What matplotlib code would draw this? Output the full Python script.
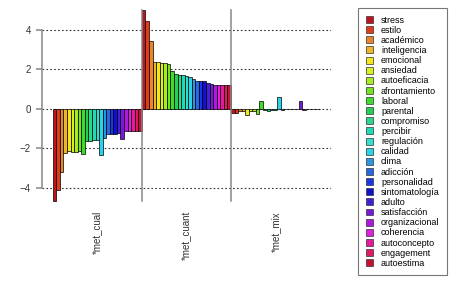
import numpy as np
import matplotlib
matplotlib.use("Agg")
import matplotlib.pyplot as plt
from matplotlib.patches import Patch

plt.rcParams['font.family'] = ['Liberation Sans', 'DejaVu Sans']

terms = ['stress', 'estilo', 'académico', 'inteligencia', 'emocional', 'ansiedad',
         'autoeficacia', 'afrontamiento', 'laboral', 'parental', 'compromiso',
         'percibir', 'regulación', 'calidad', 'clima', 'adicción', 'personalidad',
         'sintomatología', 'adulto', 'satisfacción', 'organizacional', 'coherencia',
         'autoconcepto', 'engagement', 'autoestima']
groups = ['*met_cual', '*met_cuant', '*met_mix']

met_cual = [-4.66, -4.12, -3.22, -2.24, -2.12, -2.18, -2.18, -2.12, -2.30, -1.64,
            -1.64, -1.58, -1.58, -2.36, -1.46, -1.30, -1.30, -1.30, -1.22, -1.54,
            -1.12, -1.12, -1.12, -1.12, -1.12]
met_cuant = [5.00, 4.46, 3.44, 2.39, 2.39, 2.34, 2.32, 2.29, 1.92, 1.75,
             1.73, 1.72, 1.68, 1.61, 1.53, 1.41, 1.41, 1.41, 1.31, 1.24,
             1.20, 1.20, 1.20, 1.20, 1.20]
met_mix = [-0.20, -0.20, -0.12, -0.12, -0.32, -0.12, -0.10, -0.25, 0.40, -0.08,
           -0.10, -0.05, -0.05, 0.60, -0.05, -0.03, -0.03, -0.03, -0.03, 0.40,
           -0.05, -0.03, -0.03, -0.03, -0.03]

colors = ['#c0141c', '#e03c1c', '#e8862c', '#f0b428', '#f4e61c', '#d8f020',
          '#a8ec20', '#74e41c', '#3cdc28', '#24d050', '#28d88c', '#20dcb4',
          '#30e0cc', '#28d4e8', '#2898e0', '#2868e0', '#1838e8', '#1010d0',
          '#4020d8', '#7818d8', '#b018e0', '#e020e0', '#e8189c', '#e01864',
          '#c81030']

fig = plt.figure(figsize=(4.74, 2.82), dpi=100)
ax = fig.add_axes([0.0888, 0.262, 0.609, 0.728])

n = len(terms)
all_vals = [met_cual, met_cuant, met_mix]
for g, vals in enumerate(all_vals):
    x = np.arange(n) + g * n
    ax.bar(x, vals, width=1.0, align='edge', color=colors,
           edgecolor='black', linewidth=0.5, zorder=3)

lo = min(min(v) for v in all_vals)
hi = max(max(v) for v in all_vals)
for g in range(1, len(groups)):
    ax.plot([g * n, g * n], [lo, hi], color='#888888', lw=1.1, zorder=4)

for yv in [-4, -2, 0, 2, 4]:
    ax.axhline(yv, color='#333333', lw=0.8, ls=(0, (1.5, 2.0)), zorder=1)

total = n * len(groups)
ext = 0.04
ax.set_xlim(-ext * total, total * (1 + ext))
span = hi - lo
ax.set_ylim(lo - ext * span, hi + ext * span)

for s in ['top', 'right', 'bottom']:
    ax.spines[s].set_visible(False)
ax.spines['left'].set_bounds(-4, 4)
ax.spines['left'].set_color('#888888')
ax.spines['left'].set_linewidth(1.1)
ax.set_yticks([-4, -2, 0, 2, 4])
ax.tick_params(axis='y', length=4, color='#888888', width=1.1,
               labelsize=7, labelcolor='#333333', pad=4)
ax.set_xticks([n / 2 + g * n for g in range(len(groups))])
ax.set_xticklabels(groups, rotation=90, fontsize=7, color='#333333')
ax.tick_params(axis='x', length=0, pad=2)

handles = [Patch(facecolor=c, edgecolor='#333333', linewidth=0.5) for c in colors]
leg = fig.legend(handles, terms, loc='upper left',
                 bbox_to_anchor=(358 / 474, 1 - 8 / 282),
                 fontsize=6.5, frameon=True, fancybox=False,
                 edgecolor='#555555', handlelength=0.8, handleheight=0.8,
                 handletextpad=0.9, labelspacing=0.125, borderpad=0.85,
                 borderaxespad=0)
leg.get_frame().set_linewidth(0.8)

fig.savefig('out.png', dpi=100)
